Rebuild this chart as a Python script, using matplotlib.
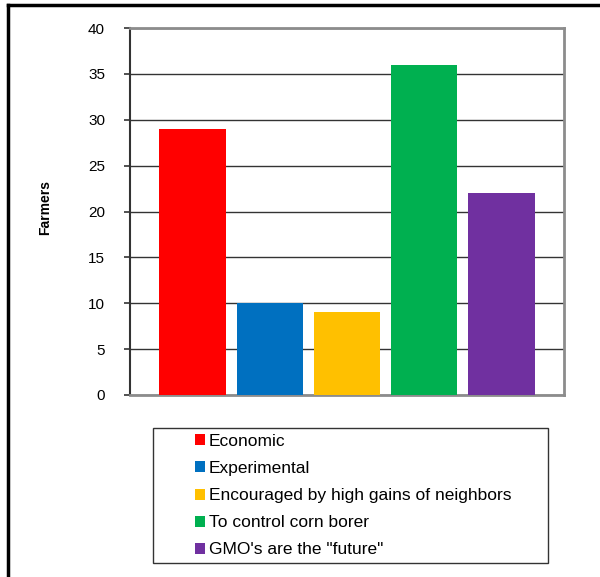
import matplotlib
matplotlib.use('Agg')
import matplotlib.pyplot as plt
from matplotlib.patches import Patch, Rectangle
from matplotlib.lines import Line2D

plt.rcParams['font.family'] = ['Liberation Sans', 'DejaVu Sans']

# данные
reasons = ['Economic', 'Experimental', 'Encouraged by high gains of neighbors',
           'To control corn borer', 'GMO\'s are the "future"']
farmers = [29, 10, 9, 36, 22]
colors = ['#FF0000', '#0070C0', '#FFC000', '#00B050', '#7030A0']
y_ticks = [0, 5, 10, 15, 20, 25, 30, 35, 40]

W, H = 600, 577
fig = plt.figure(figsize=(W / 100, H / 100), dpi=100)

# рамка вокруг всей картинки (обрезана справа и снизу)
fig.add_artist(Line2D([8 / W, 8 / W], [0, 1 - 5 / H], color='black', lw=2.5,
                      transform=fig.transFigure))
fig.add_artist(Line2D([8 / W, 1], [1 - 5 / H, 1 - 5 / H], color='black', lw=2.5,
                      transform=fig.transFigure))

ax = fig.add_axes([130 / W, 1 - 395 / H, 434 / W, 367 / H])
x = list(range(len(farmers)))
ax.bar(x, farmers, width=0.86, color=colors, zorder=3)
ax.set_xlim(-0.81, 4.81)
ax.set_ylim(0, 40)
ax.set_yticks(y_ticks)
ax.set_xticks([])
ax.tick_params(axis='y', direction='out', length=4, width=1.2, color='#333333',
               labelsize=11, pad=14)
ax.grid(axis='y', color='#333333', linewidth=1, zorder=1)

for side in ['top', 'right', 'bottom']:
    ax.spines[side].set_color('#8c8c8c')
    ax.spines[side].set_linewidth(2)
ax.spines['left'].set_color('#333333')
ax.spines['left'].set_linewidth(1.5)

fig.text(45 / W, 1 - 207 / H, 'Farmers', rotation=90, fontsize=10,
         fontweight='bold', ha='center', va='center')

# легенда
fig.add_artist(Rectangle((153 / W, 1 - 563 / H), 395 / W, 135 / H, fill=False,
                         edgecolor='#333333', lw=1, transform=fig.transFigure))
handles = [Patch(facecolor=c, edgecolor='none') for c in colors]
fig.legend(handles, reasons, loc='upper left',
           bbox_to_anchor=(181 / W, 1 - 420 / H), frameon=False, fontsize=12.5,
           handlelength=0.6, handleheight=0.6, handletextpad=0.2,
           labelspacing=0.7, borderpad=0.3)

plt.savefig('out.png', dpi=100)
